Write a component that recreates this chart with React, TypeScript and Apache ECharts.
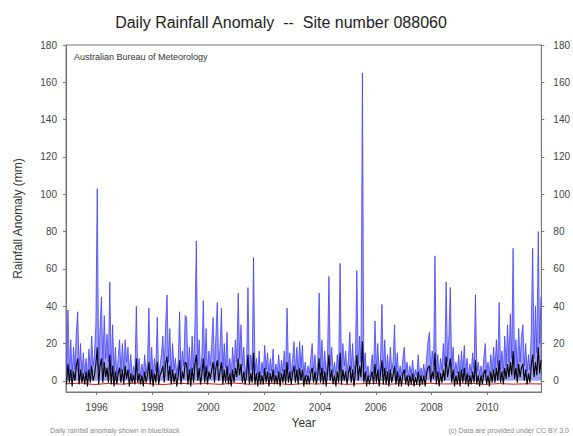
import React, { useEffect, useRef } from "react";
import * as echarts from "echarts";

const TITLE = "Daily Rainfall Anomaly  --  Site number 088060";
const SOURCE = "Australian Bureau of Meteorology";
const FOOT_LEFT = "Daily rainfall anomaly shown in blue/black";
const FOOT_RIGHT = "(c) Data are provided under CC BY 3.0";

const yearLabels = [1996, 1998, 2000, 2002, 2004, 2006, 2008, 2010];
const yTicks = [0, 20, 40, 60, 80, 100, 120, 140, 160, 180];

const START = 1994.92;
const STEP = 0.05;
const RED_STEP = 0.5;

// blue: daily rainfall anomaly (mm), read roughly every 0.05 yr
const blueValues = [
  5, 38, 4, 22, 3, 18, 6, 26, 37, 5, 20, 3, 15, 4, 12, 2, 17, 5, 24, 8,
  14, 30, 103, 6, 28, 45, 8, 35, 12, 25, 10, 53, 6, 30, 4, 18, 3, 12, 22, 5,
  20, 6, 22, 10, 18, 4, 14, 2, 8, 3, 40, 5, 12, 2, 9, 3, 14, 4, 10, 39,
  3, 18, 2, 12, 5, 34, 2, 8, 14, 24, 6, 30, 46, 10, 28, 4, 20, 6, 12, 3,
  10, 37, 4, 16, 8, 35, 34, 5, 18, 3, 24, 6, 30, 75, 8, 22, 5, 14, 43, 6,
  28, 4, 16, 8, 20, 34, 6, 24, 42, 8, 18, 39, 5, 20, 7, 26, 4, 12, 3, 18,
  6, 22, 10, 47, 12, 30, 8, 18, 3, 10, 50, 4, 14, 6, 66, 5, 12, 3, 16, 2,
  10, 4, 19, 6, 15, 3, 12, 5, 17, 2, 9, 4, 14, 3, 11, 5, 16, 4, 39, 6,
  15, 3, 12, 21, 5, 18, 4, 21, 7, 19, 3, 10, 2, 8, 4, 12, 20, 5, 14, 3,
  10, 47, 6, 22, 4, 16, 3, 12, 56, 8, 18, 4, 10, 3, 14, 6, 63, 5, 20, 8,
  16, 4, 12, 26, 6, 20, 3, 14, 59, 8, 24, 10, 165, 6, 15, 3, 8, 2, 6, 14,
  4, 32, 6, 20, 3, 12, 41, 5, 22, 4, 14, 3, 18, 6, 10, 30, 4, 15, 2, 8,
  3, 12, 18, 4, 10, 2, 8, 3, 11, 2, 6, 3, 14, 2, 7, 3, 9, 2, 12, 21,
  26, 5, 16, 8, 67, 4, 14, 3, 12, 6, 20, 8, 53, 10, 24, 50, 6, 18, 3, 10,
  4, 14, 3, 16, 5, 19, 4, 12, 2, 9, 4, 15, 6, 46, 5, 10, 3, 8, 2, 12,
  20, 4, 10, 3, 14, 5, 18, 6, 22, 8, 42, 6, 16, 4, 24, 8, 30, 10, 36, 12,
  71, 8, 22, 6, 28, 10, 24, 30, 8, 20, 5, 14, 6, 26, 71, 12, 40, 15, 80, 20, 45,
];

// black: smaller anomaly trace, same sampling
const blackValues = [
  -2, 9, -1, 6, -3, 5, 0, 8, 12, -2, 6, -1, 4, -2, 5, -3, 6, -1, 8, 0,
  3, 9, 18, -2, 8, 12, -1, 10, 2, 7, -1, 14, -2, 8, -3, 5, -2, 4, 7, -1,
  6, -2, 8, 1, 6, -3, 4, -1, 3, -2, 12, -1, 4, -2, 3, -3, 5, -1, 3, 10,
  -2, 6, -3, 4, -1, 10, -2, 3, 5, 8, -1, 9, 13, 0, 8, -2, 6, -1, 4, -3,
  3, 11, -2, 5, 1, 10, 9, -2, 6, -3, 7, -1, 9, 14, 0, 7, -2, 4, 12, -1,
  8, -2, 5, 1, 6, 10, -1, 7, 11, 0, 5, 10, -2, 6, -1, 8, -2, 4, -3, 6,
  -1, 7, 2, 12, 3, 9, -1, 5, -2, 3, 14, -2, 4, -1, 15, -2, 4, -3, 5, -2,
  3, -2, 7, -1, 5, -3, 4, -1, 6, -2, 3, -2, 5, -3, 4, -1, 6, -2, 10, -1,
  5, -2, 4, 8, -1, 6, -2, 7, 0, 6, -3, 3, -2, 3, -2, 4, 7, -1, 5, -2,
  3, 12, -1, 7, -2, 5, -3, 4, 14, 0, 6, -2, 3, -3, 5, -1, 15, -2, 6, 0,
  5, -2, 4, 8, -1, 6, -3, 5, 14, 0, 8, 2, 21, -1, 5, -3, 3, -2, 2, 5,
  -2, 9, -1, 6, -3, 4, 11, -2, 7, -2, 5, -3, 6, -1, 3, 8, -2, 5, -3, 3,
  -3, 4, 6, -2, 3, -3, 3, -2, 4, -3, 2, -2, 5, -3, 3, -2, 3, -3, 4, 7,
  8, -1, 5, 1, 15, -2, 5, -3, 4, -1, 6, 0, 13, 2, 7, 12, -1, 6, -3, 3,
  -2, 5, -3, 6, -1, 7, -2, 4, -3, 3, -2, 5, -1, 11, -2, 3, -3, 3, -2, 4,
  6, -2, 3, -3, 5, -1, 6, -1, 7, 0, 11, -1, 5, -2, 7, 1, 9, 2, 10, 3,
  16, 1, 7, -1, 9, 2, 7, 9, 0, 6, -2, 4, -1, 8, 14, 2, 10, 3, 18, 4, 11,
];

// red: near-zero reference trace, every 0.5 yr
const redValues = [
  -1.6, -1.2, -2.0, -1.4, -1.8, -1.2, -1.6, -2.0, -1.3, -1.7, -1.5, -1.9,
  -1.2, -1.8, -1.6, -1.4, -2.0, -1.5, -1.7, -1.3, -1.9, -1.6, -1.4, -1.8,
  -1.5, -2.0, -1.3, -1.7, -1.6, -1.4, -1.9, -1.5, -1.8, -1.6, -1.7,
];

const FONT = "Liberation Sans, Arial, sans-serif";

export default function App() {
  const ref = useRef<HTMLDivElement>(null);
  useEffect(() => {
    document.body.style.margin = "0";
    if (!ref.current) return;
    const chart = echarts.init(ref.current, null, { renderer: "svg" });
    const toPairs = (arr: number[], step: number) =>
      arr.map((v, i) => [+(START + step * i).toFixed(3), v]);
    const yAxisBase = {
      type: "value",
      min: -6,
      max: 180,
      splitLine: { show: false },
      axisLine: { show: true, lineStyle: { color: "#777" } },
      axisTick: { show: true, length: 3, customValues: yTicks, lineStyle: { color: "#777" } },
      axisLabel: {
        customValues: yTicks,
        color: "#444",
        fontSize: 10,
        fontFamily: FONT,
        margin: 9,
      },
    };
    chart.setOption({
      animation: false,
      backgroundColor: "#fff",
      title: {
        text: TITLE,
        left: 276,
        textAlign: "center",
        top: 9,
        textStyle: {
          fontSize: 16,
          fontWeight: "normal",
          color: "#222",
          fontFamily: FONT,
        },
      },
      grid: {
        left: 66,
        right: 31,
        top: 45,
        bottom: 44,
        show: true,
        borderColor: "#777",
        borderWidth: 1,
      },
      xAxis: {
        type: "value",
        min: 1994.9,
        max: 2011.93,
        name: "Year",
        nameLocation: "middle",
        nameGap: 24,
        nameTextStyle: { fontSize: 12, color: "#333", fontFamily: FONT },
        splitLine: { show: false },
        axisLine: { onZero: false, lineStyle: { color: "#777" } },
        axisTick: { show: true, length: 3, customValues: yearLabels, lineStyle: { color: "#777" } },
        axisLabel: {
          customValues: yearLabels,
          formatter: (v: number) => String(Math.round(v)),
          color: "#444",
          fontSize: 10,
          margin: 10,
          fontFamily: FONT,
        },
      },
      yAxis: [
        {
          ...yAxisBase,
          position: "left",
          name: "Rainfall Anomaly (mm)",
          nameLocation: "middle",
          nameGap: 42,
          nameRotate: 90,
          nameTextStyle: { fontSize: 12, color: "#333", fontFamily: FONT },
        },
        { ...yAxisBase, position: "right", axisLabel: { ...yAxisBase.axisLabel, margin: 12 } },
      ],
      graphic: [
        {
          type: "text",
          left: 74,
          top: 52,
          style: { text: SOURCE, fontSize: 9, fill: "#333", fontFamily: FONT },
        },
        {
          type: "text",
          left: 50,
          top: 427,
          style: { text: FOOT_LEFT, fontSize: 7, fill: "#888", fontFamily: FONT },
        },
        {
          type: "text",
          right: 4,
          top: 427,
          style: { text: FOOT_RIGHT, fontSize: 7, fill: "#888", fontFamily: FONT },
        },
      ],
      series: [
        {
          type: "line",
          data: toPairs(blueValues, STEP),
          showSymbol: false,
          lineStyle: { color: "#3a3aff", width: 1, opacity: 0.75 },
          areaStyle: { color: "#2a2af0", opacity: 0.45, origin: "auto" },
          z: 1,
        },
        {
          type: "line",
          data: toPairs(redValues, RED_STEP),
          showSymbol: false,
          lineStyle: { color: "#e01010", width: 1 },
          z: 2,
        },
        {
          type: "line",
          data: toPairs(blackValues, STEP),
          showSymbol: false,
          lineStyle: { color: "#000", width: 1.1 },
          z: 3,
        },
      ],
    });
    return () => chart.dispose();
  }, []);
  return <div ref={ref} style={{ width: 573, height: 436 }} />;
}
